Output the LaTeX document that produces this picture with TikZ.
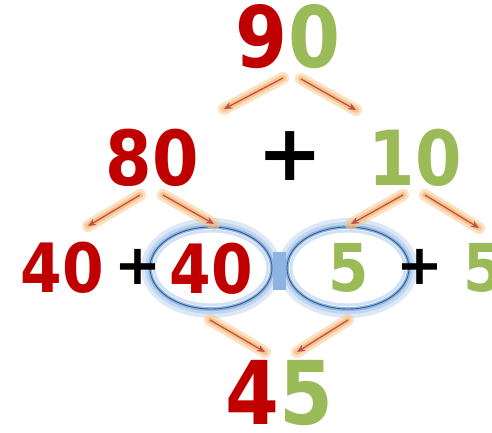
\documentclass[tikz,border=0pt]{standalone}
\usepackage{fontspec}
\setmainfont{DejaVu Sans}
\usetikzlibrary{arrows.meta}
\definecolor{nred}{HTML}{C00000}
\definecolor{ngreen}{HTML}{9BBB59}
\definecolor{glowor}{HTML}{F6C891}
\definecolor{arrred}{HTML}{C0504D}
\definecolor{glowbl}{HTML}{8DB3E2}
\definecolor{ringbl}{HTML}{3A5F8C}
\tikzset{
  num/.style={inner sep=0pt, font=\bfseries\fontsize{#1}{#1}\selectfont, xscale=0.88},
  plus/.style={inner sep=0pt, font=\bfseries\fontsize{#1}{#1}\selectfont, text=black},
  glowarr/.style={draw=glowor, line width=12pt, line cap=round, opacity=0.55},
  glowarr2/.style={draw=glowor!80!orange, line width=6pt, line cap=round, opacity=0.7},
  redarr/.style={draw=arrred, line width=1.3pt, -{Stealth[length=8pt,width=7pt]}},
}
\newcommand{\glowarrow}[2]{%
  \draw[glowarr] (#1) -- (#2);
  \draw[glowarr2] (#1) -- (#2);
  \draw[redarr] (#1) -- (#2);}
\begin{document}
\begin{tikzpicture}[x=1pt,y=-1pt]
\useasboundingbox (0,0) rectangle (492,433);
% rings glow
\foreach \cx in {211,348}{
  \draw[glowbl!30, line width=18pt] (\cx,268) ellipse [x radius=61, y radius=41];
  \draw[glowbl!55, line width=10pt] (\cx,268) ellipse [x radius=61, y radius=41];
  \draw[glowbl, line width=4pt] (\cx,268) ellipse [x radius=61, y radius=41];
}
\fill[glowbl] (273,252) rectangle (286,290);
\foreach \cx in {211,348}{
  \fill[white] (\cx,268) ellipse [x radius=59, y radius=39];
  \draw[glowbl!40, line width=3pt] (\cx,268) ellipse [x radius=57, y radius=37];
}
\draw[ringbl, line width=0.9pt] (211,268) ellipse [x radius=61, y radius=41];
\draw[ringbl, line width=0.9pt] (348,268) ellipse [x radius=61, y radius=41];
\node (ringL) at (211,268) {};
\node (ringR) at (348,268) {};
% arrow end points
\coordinate (a1s) at (283,78);  \coordinate (a1e) at (224,109);
\coordinate (a2s) at (301,79);  \coordinate (a2e) at (356,110);
\coordinate (a3s) at (140,195); \coordinate (a3e) at (88,226);
\coordinate (a4s) at (163,195); \coordinate (a4e) at (214,224);
\coordinate (a5s) at (403,195); \coordinate (a5e) at (351,224);
\coordinate (a6s) at (425,195); \coordinate (a6e) at (479,228);
\coordinate (a7s) at (210,320); \coordinate (a7e) at (265,352);
\coordinate (a8s) at (348,320); \coordinate (a8e) at (297,352);
\glowarrow{a1s}{a1e}
\glowarrow{a2s}{a2e}
\glowarrow{a3s}{a3e}
\glowarrow{a4s}{a4e}
\glowarrow{a5s}{a5e}
\glowarrow{a6s}{a6e}
\glowarrow{a7s}{a7e}
\glowarrow{a8s}{a8e}
% numbers
\node[num=85] (n90) at (288,37) {\textcolor{nred}{9}\textcolor{ngreen}{0}};
\node[num=76] (n80) at (152,158) {\textcolor{nred}{80}};
\node[plus=78] (p1) at (290,156) {+};
\node[num=76] (n10) at (415,158) {\textcolor{ngreen}{10}};
\node[num=68] (n40a) at (62,268) {\textcolor{nred}{40}};
\node[plus=56] (p2) at (138,267) {+};
\node[num=68] (n40b) at (211,269) {\textcolor{nred}{40}};
\node[num=66] (n5a) at (349,268) {\textcolor{ngreen}{5}};
\node[plus=56] (p3) at (420,267) {+};
\node[num=66] (n5b) at (484,268) {\textcolor{ngreen}{5}};
\node[num=88] (n45) at (279,393) {\textcolor{nred}{4}\textcolor{ngreen}{5}};
\end{tikzpicture}
\end{document}
